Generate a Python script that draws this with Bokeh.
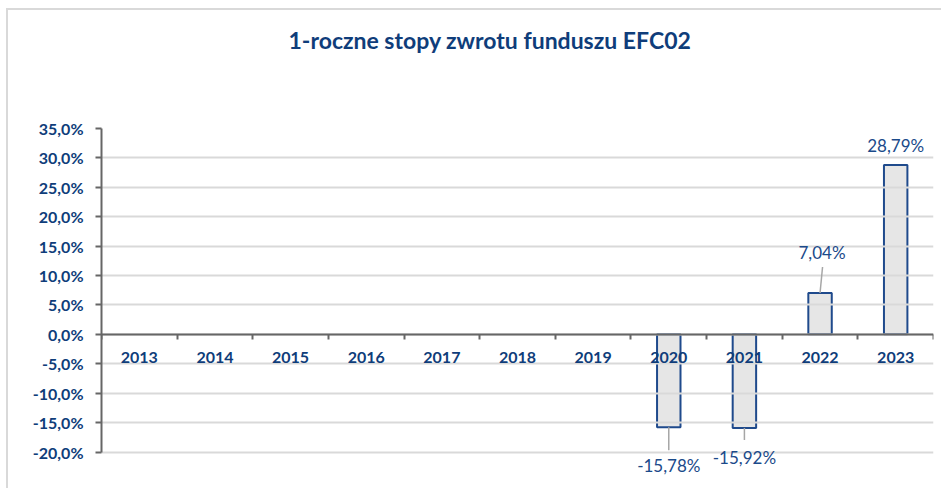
from bokeh.plotting import figure
from bokeh.models import Range1d, FixedTicker, ColumnDataSource, LabelSet, LinearAxis
from bokeh.core.properties import value
from bokeh.embed import file_html
from bokeh.resources import INLINE

# ---------------- data ----------------
years = ["2013", "2014", "2015", "2016", "2017", "2018", "2019", "2020", "2021", "2022", "2023"]
returns = [None, None, None, None, None, None, None, -15.78, -15.92, 7.04, 28.79]
y_ticks = [-20, -15, -10, -5, 0, 5, 10, 15, 20, 25, 30, 35]
title_text = "1-roczne stopy zwrotu funduszu EFC02"

# ---------------- styles ----------------
NAVY = "#0F3D7A"
LABEL_BLUE = "#1B4A8A"
BAR_LINE = "#1F4A8C"
BAR_FILL = "#E6E6E6"
AXIS_GRAY = "#666666"
GRID_GRAY = "#D9D9D9"
FONT = "Lato"

W, H = 941, 488
MB_LEFT, MB_RIGHT, MB_TOP, MB_BOTTOM = 101, 8, 128, 0
AXIS_SPAN_PX = 323.5          # pixel height of the -20% .. 35% axis
frame_w = W - MB_LEFT - MB_RIGHT
frame_h = H - MB_TOP - MB_BOTTOM
y_min, y_max = y_ticks[0], y_ticks[-1]
ppu_y = AXIS_SPAN_PX / (y_max - y_min)
y_lo = y_max - frame_h / ppu_y
n = len(years)
ppu_x = frame_w / n

# per-label pixel placement (for years that have values, in order)
label_dx = [0, 0, 2, 0]
label_dy = [-38, -29, 40, 20]
leader_px = [23, 12, 26, 0]
leader_dx = [0, 0, 2.5, 0]

# ---------------- figure ----------------
p = figure(width=W, height=H, output_backend="svg", toolbar_location=None,
           x_range=Range1d(-0.5, n - 0.5), y_range=Range1d(y_lo, y_max),
           min_border_left=MB_LEFT, min_border_right=MB_RIGHT,
           min_border_top=MB_TOP, min_border_bottom=MB_BOTTOM,
           x_axis_type=None, y_axis_location="left")
p.border_fill_color = None
p.background_fill_color = None
p.outline_line_color = None
p.styles = {
    "background-image": "linear-gradient(#D9D9D9,#D9D9D9), linear-gradient(#D9D9D9,#D9D9D9)",
    "background-size": "2px 100%, 100% 2px",
    "background-position": "6px 8px, 6px 8px",
    "background-repeat": "no-repeat",
}

# title
p.title.text = title_text
p.title.text_font = FONT
p.title.text_font_size = "23px"
p.title.text_font_style = "bold"
p.title.text_color = NAVY
p.title.align = "left"
p.title.offset = 187
p.title.vertical_align = "bottom"
p.title.standoff = 10

# white spacer between title and plot area (pushes the title up)
spacer = LinearAxis(ticker=FixedTicker(ticks=[-0.5]), axis_line_color=None,
                    major_tick_line_color="#FFFFFF", major_tick_line_width=1,
                    minor_tick_line_color=None,
                    major_tick_out=70, major_tick_in=0, minor_tick_out=0, minor_tick_in=0,
                    major_label_standoff=0, major_label_overrides={-0.5: ""})
p.add_layout(spacer, "above")

# y axis
ya = p.yaxis[0]
ya.ticker = FixedTicker(ticks=y_ticks)
ya.bounds = (y_min, y_max)
ya.major_label_overrides = {t: f"{t:.1f}".replace(".", ",") + "%" for t in y_ticks}
ya.axis_line_color = AXIS_GRAY
ya.axis_line_width = 2
ya.major_tick_line_color = AXIS_GRAY
ya.major_tick_line_width = 2
ya.major_tick_out = 6
ya.major_tick_in = 0
ya.minor_tick_line_color = None
ya.major_label_standoff = 12
ya.major_label_text_font = FONT
ya.major_label_text_font_style = "bold"
ya.major_label_text_font_size = "16px"
ya.major_label_text_color = NAVY

p.ygrid.ticker = FixedTicker(ticks=y_ticks)
p.ygrid.grid_line_color = GRID_GRAY
p.ygrid.grid_line_width = 2
p.xgrid.grid_line_color = None

# x axis drawn at y = 0: labels at category centres, ticks at category boundaries
centers = list(range(n))
bounds = [i - 0.5 for i in range(n + 1)]
xa = LinearAxis(ticker=FixedTicker(ticks=centers, minor_ticks=bounds), fixed_location=0)
xa.major_label_overrides = {i: y for i, y in zip(centers, years)}
xa.axis_line_color = AXIS_GRAY
xa.axis_line_width = 2
xa.major_tick_line_color = None
xa.major_tick_out = 0
xa.major_tick_in = 0
xa.minor_tick_line_color = AXIS_GRAY
xa.minor_tick_line_width = 2
xa.minor_tick_out = 5
xa.minor_tick_in = 0
xa.major_label_standoff = 13
xa.major_label_text_font = FONT
xa.major_label_text_font_style = "bold"
xa.major_label_text_font_size = "16px"
xa.major_label_text_color = NAVY
p.add_layout(xa, "below")

# bars
bx = [i for i, v in enumerate(returns) if v is not None]
bv = [v for v in returns if v is not None]
bars = ColumnDataSource(dict(x=bx, top=bv))
p.vbar(x="x", top="top", bottom=0, width=0.31, source=bars,
       fill_color=BAR_FILL, line_color=BAR_LINE, line_width=2, level="underlay")

# leader lines
lx0, ly0, lx1, ly1 = [], [], [], []
for x, v, L, dx in zip(bx, bv, leader_px, leader_dx):
    if L > 0:
        s = 1 if v >= 0 else -1
        lx0.append(x)
        ly0.append(v)
        lx1.append(x + dx / ppu_x)
        ly1.append(v + s * L / ppu_y)
p.segment(x0=lx0, y0=ly0, x1=lx1, y1=ly1, line_color="#A6A6A6", line_width=1.5)

# data labels
lab = ColumnDataSource(dict(
    x=bx, y=bv,
    text=[f"{v:.2f}".replace(".", ",") + "%" for v in bv],
    dx=label_dx, dy=label_dy))
p.add_layout(LabelSet(x="x", y="y", text="text", x_offset="dx", y_offset="dy", source=lab,
                      text_align="center", text_baseline="middle",
                      text_font=value(FONT), text_font_size="17px", text_color=LABEL_BLUE))

open("out.html", "w").write(file_html(p, INLINE))
